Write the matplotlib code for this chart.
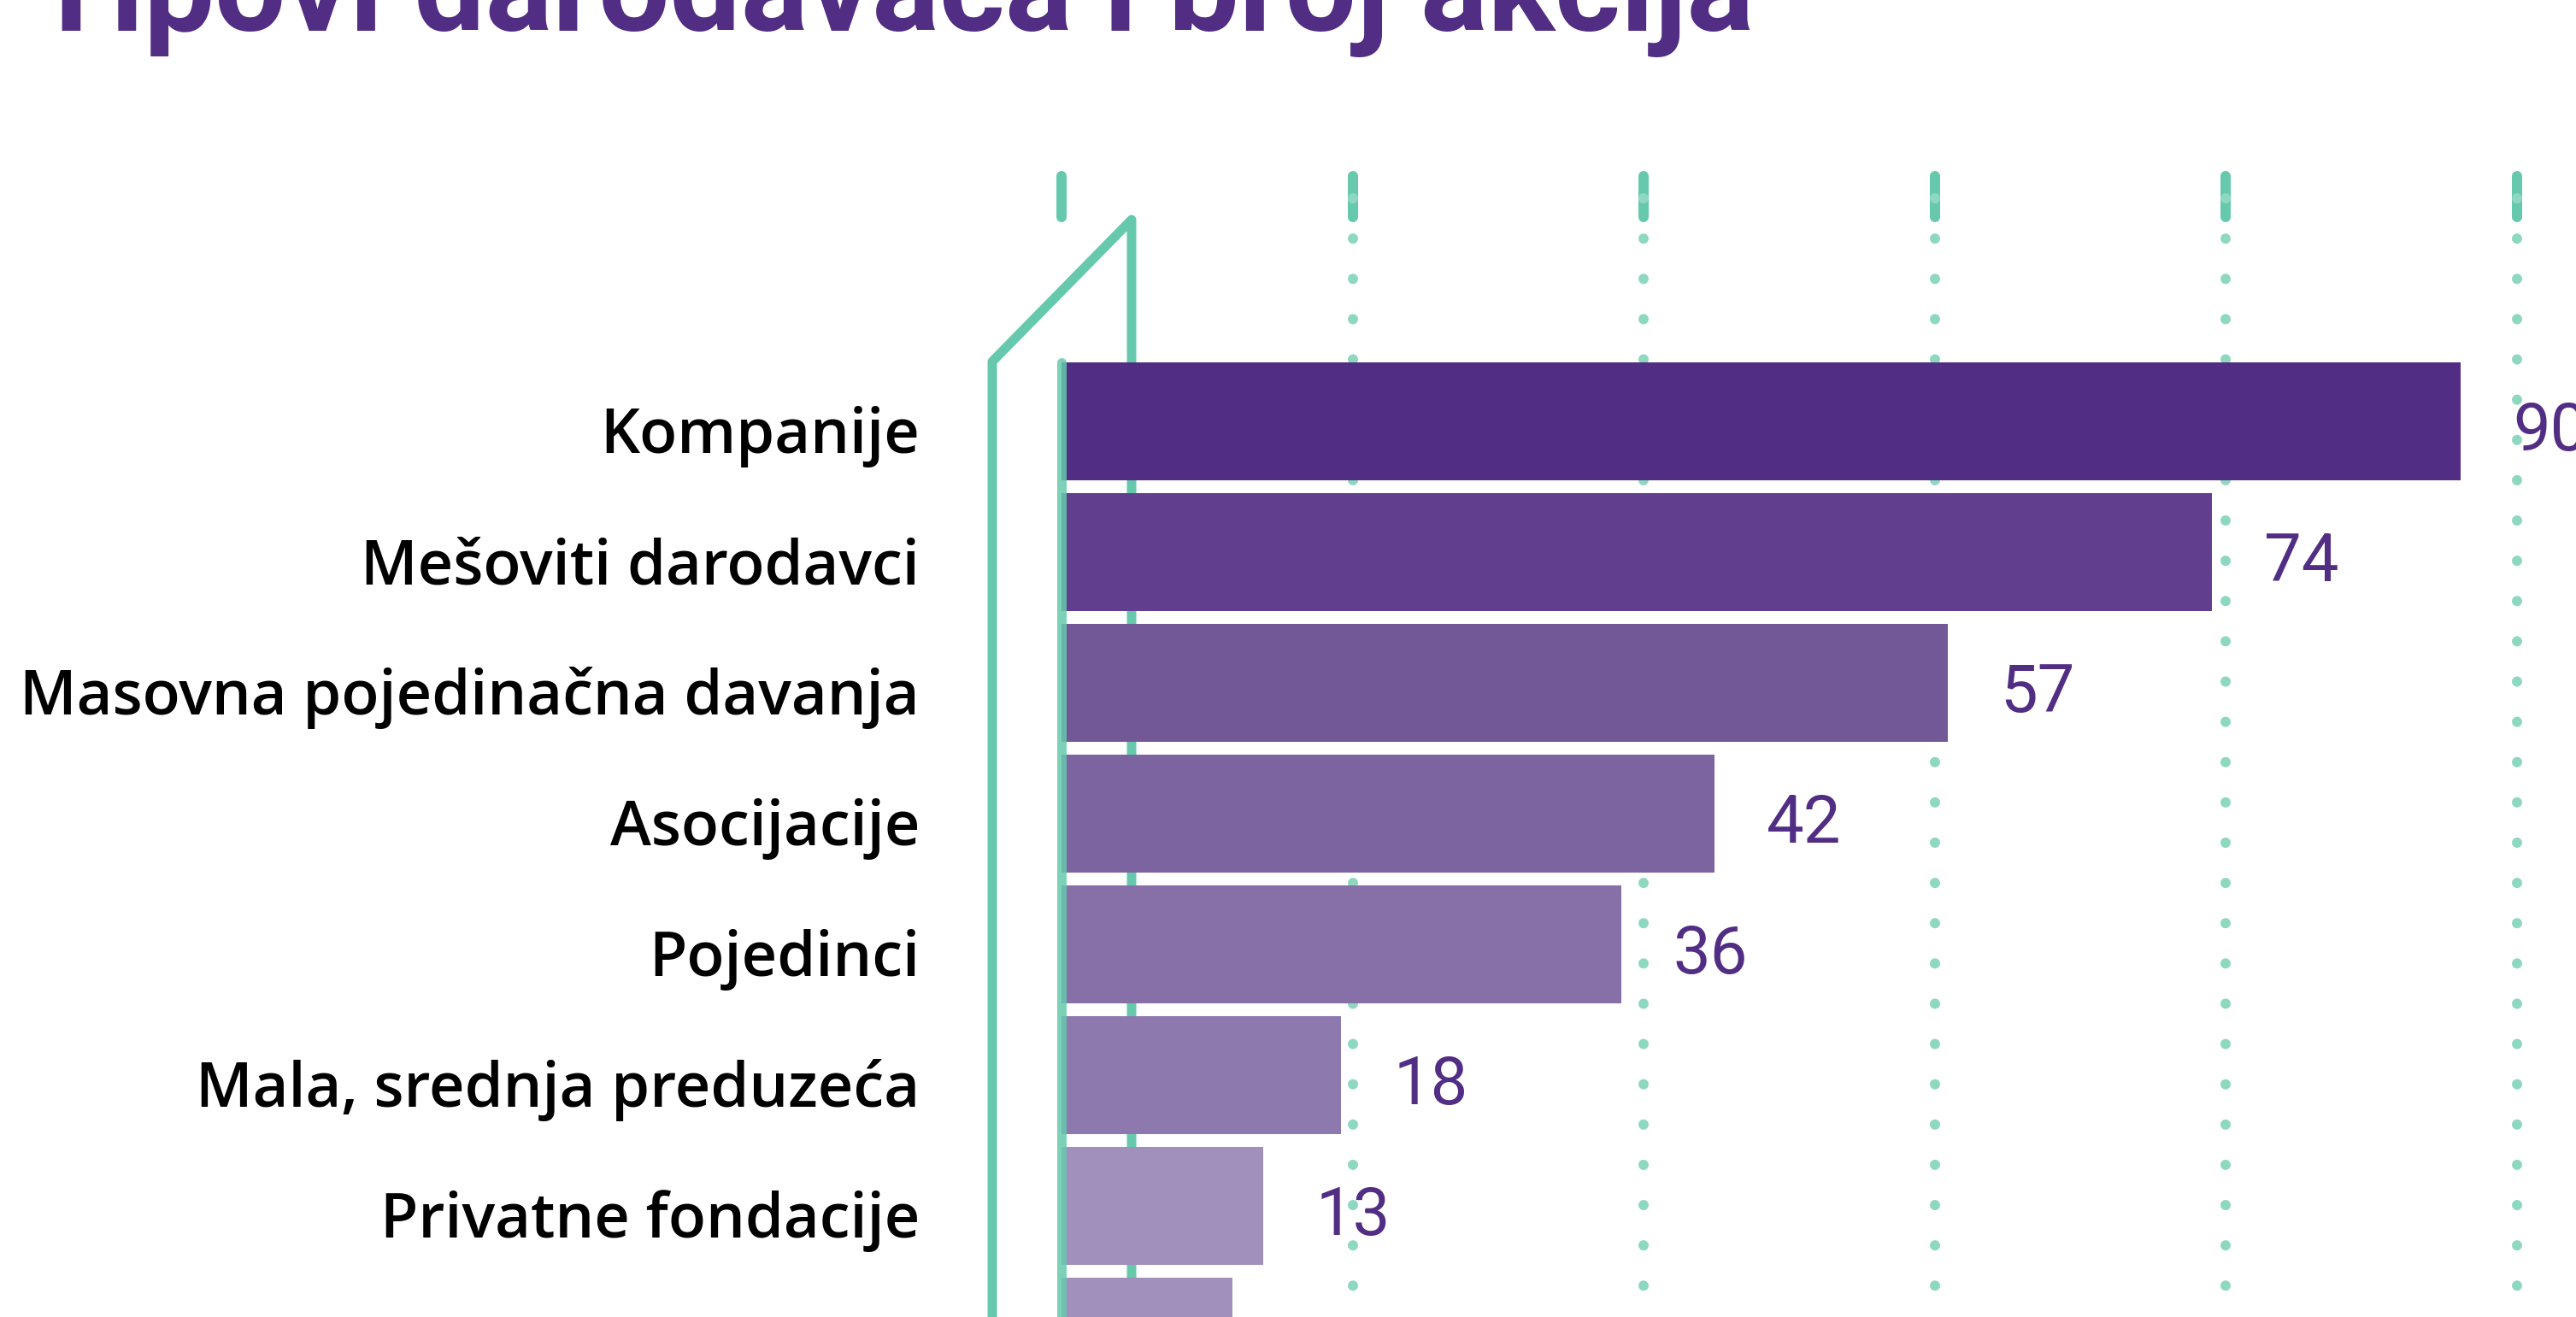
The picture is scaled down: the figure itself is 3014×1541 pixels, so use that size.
import matplotlib.pyplot as plt

# data
categories = ['Kompanije', 'Mešoviti darodavci', 'Masovna pojedinačna davanja',
              'Asocijacije', 'Pojedinci', 'Mala, srednja preduzeća',
              'Privatne fondacije', 'Ostali']
values = [90, 74, 57, 42, 36, 18, 13, 11]
bar_colors = ['#512D84', '#623F8E', '#735897', '#7B64A0',
              '#8770A8', '#8E79AE', '#A190BC', '#A190BC']
title = 'Tipovi darodavaca i broj akcija'

purple = '#512D84'
teal = '#66C9AD'
teal_dot = '#8ED8C2'

W, H, DPI = 3014, 1541, 200
fig = plt.figure(figsize=(W / DPI, H / DPI), dpi=DPI)

# background axes in pixel units, for decoration
ax_bg = fig.add_axes([0, 0, 1, 1], zorder=0)
ax_bg.set_xlim(0, W)
ax_bg.set_ylim(H, 0)
ax_bg.axis('off')

# main axes: zero at x=1242 px, 18.19 px per unit, bars 153 px apart
x0, px_unit = 1242, 18.19
y0, pitch = 493, 153
ax = fig.add_axes([0, 0, 1, 1], zorder=1)
ax.patch.set_visible(False)
ax.set_xlim(-x0 / px_unit, (W - x0) / px_unit)
ax.set_ylim((H - y0) / pitch, -y0 / pitch)
ax.axis('off')

pt = 72 / DPI  # points per pixel

# dotted grid + short ticks at top
grid_x = [x0 + 340.5 * k for k in range(6)]
for k, gx in enumerate(grid_x):
    ax_bg.plot([gx, gx], [206, 254], color=teal, lw=12 * pt,
               solid_capstyle='round')
    if k > 0:
        ax_bg.plot([gx, gx], [232, H + 20], color=teal_dot, lw=12 * pt,
                   dashes=(0.01, 47 / 12), dash_capstyle='round')

# bracket-like teal line behind the bars
ax_bg.plot([1161, 1161, 1324, 1324], [H + 20, 423, 257, H + 20],
           color=teal, lw=11 * pt, solid_joinstyle='round',
           solid_capstyle='round')

# bars
ypos = list(range(len(values)))
ax.barh(ypos, values, height=138 / pitch, color=bar_colors, zorder=2)

# axis line on top of bars
ax.plot([x0, x0], [424, H + 20], transform=ax_bg.transData,
        color=teal, lw=11 * pt, alpha=0.85, solid_capstyle='round', zorder=3)

for i, (name, v) in enumerate(zip(categories, values)):
    ax.annotate(name, xy=(0, i), xytext=(-166 * pt, -37 * pt),
                textcoords='offset points', ha='right', va='baseline',
                fontsize=26, family=['Open Sans', 'DejaVu Sans'],
                weight='semibold', color='black')
    ax.annotate(str(v), xy=(v, i), xytext=(61 * pt, -34 * pt),
                textcoords='offset points', ha='left', va='baseline',
                fontsize=28, family=['Liberation Sans Narrow', 'Roboto'],
                color=purple)

fig.text(38 / W, 1 - 36 / H, title, ha='left', va='baseline',
         fontsize=53, weight='bold',
         family=['Liberation Sans Narrow', 'Roboto'], color=purple)

fig.savefig('out.png', dpi=DPI)
